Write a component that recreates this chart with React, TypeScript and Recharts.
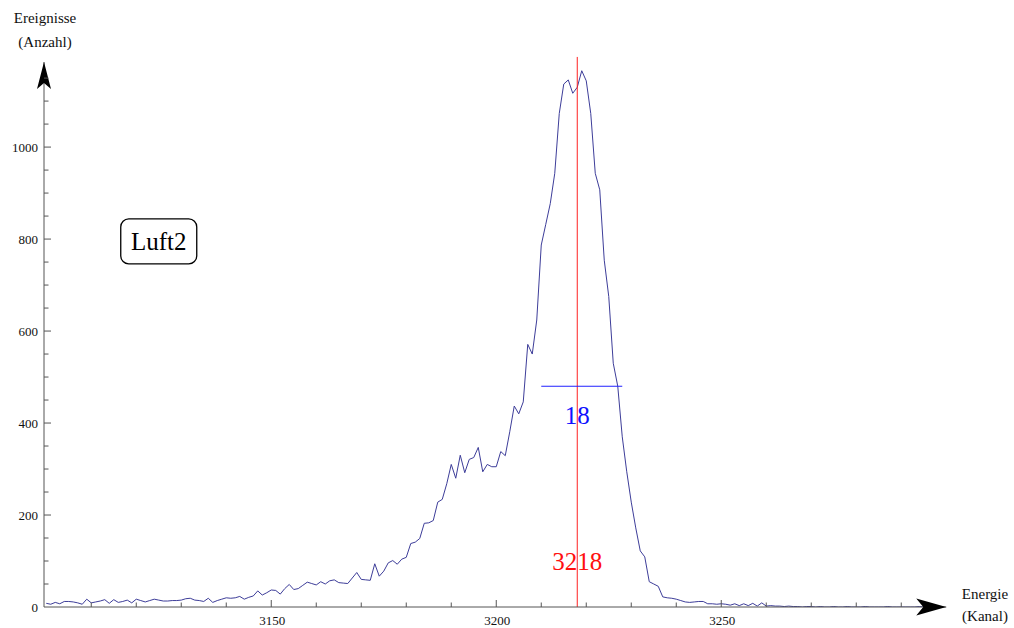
import { LineChart, Line, XAxis, YAxis, ReferenceLine, ReferenceDot } from "recharts"

// counts per channel, starting at firstChannel
const firstChannel = 3100
const counts = [
  8, 6, 10, 7, 12, 12, 11, 9, 6, 17,
  9, 11, 13, 16, 8, 16, 10, 12, 15, 9,
  17, 14, 11, 14, 17, 15, 13, 13, 14, 14,
  15, 18, 19, 15, 14, 12, 19, 10, 14, 17,
  20, 19, 20, 23, 17, 21, 24, 35, 26, 31,
  37, 36, 28, 40, 49, 38, 40, 47, 54, 51,
  48, 55, 50, 57, 59, 53, 52, 51, 63, 75,
  60, 59, 58, 94, 67, 78, 96, 101, 93, 104,
  108, 138, 141, 149, 182, 183, 188, 228, 234, 268,
  310, 280, 330, 292, 321, 325, 347, 294, 310, 305,
  305, 338, 329, 381, 437, 420, 446, 571, 550, 624,
  787, 832, 877, 943, 1073, 1137, 1146, 1117, 1130, 1166,
  1144, 1073, 943, 907, 754, 675, 530, 480, 370, 294,
  228, 172, 122, 109, 55, 50, 45, 22, 20, 19,
  17, 14, 11, 10, 11, 12, 12, 7, 7, 6,
  7, 6, 4, 7, 3, 7, 3, 8, 2, 9,
  2, 3, 2, 2, 1, 2, 1, 1, 0, 1,
  1, 0, 1, 0, 0, 1, 0, 0, 1, 0,
  0, 0, 1, 0, 0, 0, 0, 1, 0, 0,
  0, 0, 0, 0, 1, 0, 0, 0, 0, 0,
]

const xTicks = [3110, 3120, 3130, 3140, 3150, 3160, 3170, 3180, 3190, 3200, 3210, 3220, 3230, 3240, 3250, 3260, 3270, 3280, 3290]
const xLabelTicks = [3150, 3200, 3250]
const yTicks = [0, 50, 100, 150, 200, 250, 300, 350, 400, 450, 500, 550, 600, 650, 700, 750, 800, 850, 900, 950, 1000, 1050, 1100, 1150]
const yLabelTicks = [0, 200, 400, 600, 800, 1000]

const peakChannel = 3218
const fwhm = 18
const fwhmLevel = 480
const fwhmStart = 3210
const peakLabelY = 98
const fwhmLabelY = 416
const tagChannel = 3125
const tagCount = 796

const xDomain: [number, number] = [3099.5, 3300]
const yDomain: [number, number] = [0, 1185]

const serif = '"Liberation Serif", "Times New Roman", serif'
const axisColor = "#555"
const curveColor = "#3d3d99"

const rows = counts.map((c, i) => ({ channel: firstChannel + i, count: c }))

function XTick({ x, y, payload }: any) {
  const major = xLabelTicks.includes(payload.value)
  return (
    <g>
      <line x1={x} y1={y} x2={x} y2={y - (major ? 7 : 4.5)} stroke={axisColor} />
      {major && (
        <text x={x + 1} y={y + 18} textAnchor="middle" fontFamily={serif} fontSize={13} fill="#111">
          {payload.value}
        </text>
      )}
    </g>
  )
}

function YTick({ x, y, payload }: any) {
  const major = yLabelTicks.includes(payload.value)
  return (
    <g>
      {payload.value !== 0 && (
        <line x1={x} y1={y} x2={x + (major ? 7 : 4.5)} y2={y} stroke={axisColor} />
      )}
      {major && (
        <text x={x - 6} y={y + 4.5} textAnchor="end" fontFamily={serif} fontSize={13} fill="#111">
          {payload.value}
        </text>
      )}
    </g>
  )
}

const rightArrow = ({ cx, cy }: any) => (
  <path d={`M${cx},${cy} L${cx - 30},${cy - 8.5} L${cx - 23},${cy} L${cx - 30},${cy + 8.5} Z`} fill="#000" />
)

const upArrow = ({ cx, cy }: any) => (
  <path d={`M${cx},${cy} L${cx - 7},${cy + 27} L${cx},${cy + 21} L${cx + 7},${cy + 27} Z`} fill="#000" />
)

const textShape = (label: string, color: string) => ({ cx, cy }: any) => (
  <text x={cx} y={cy} textAnchor="middle" dominantBaseline="central" fontFamily={serif} fontSize={25} fill={color}>
    {label}
  </text>
)

const tagShape = ({ cx, cy }: any) => (
  <g>
    <rect x={cx - 38} y={cy - 22} width={76} height={45} rx={8} fill="#fff" stroke="#000" strokeWidth={1.3} />
    <text x={cx} y={cy + 1} textAnchor="middle" dominantBaseline="central" fontFamily={serif} fontSize={25} fill="#000">
      Luft2
    </text>
  </g>
)

export default function App() {
  return (
    <div style={{ position: "absolute", left: 0, top: 0, width: 1014, height: 628, background: "#fff" }}>
      <LineChart width={1014} height={628} data={rows} margin={{ top: 62, right: 67.75, bottom: 0, left: 0 }}>
        <XAxis
          type="number"
          dataKey="channel"
          domain={xDomain}
          allowDataOverflow
          ticks={xTicks}
          interval={0}
          tick={<XTick />}
          tickSize={0}
          tickMargin={0}
          tickLine={false}
          axisLine={{ stroke: axisColor }}
          height={21}
        />
        <YAxis
          type="number"
          domain={yDomain}
          allowDataOverflow
          ticks={yTicks}
          interval={0}
          tick={<YTick />}
          tickSize={0}
          tickMargin={0}
          tickLine={false}
          axisLine={{ stroke: axisColor }}
          width={44}
        />
        <Line
          type="linear"
          dataKey="count"
          stroke={curveColor}
          strokeWidth={1}
          dot={false}
          isAnimationActive={false}
        />
        <ReferenceLine
          segment={[{ x: peakChannel, y: 0 }, { x: peakChannel, y: 1196 }]}
          stroke="#ff2020"
          strokeWidth={1}
          ifOverflow="visible"
        />
        <ReferenceLine
          segment={[{ x: fwhmStart, y: fwhmLevel }, { x: fwhmStart + fwhm, y: fwhmLevel }]}
          stroke="#2020ff"
          strokeWidth={1.2}
        />
        <ReferenceDot x={peakChannel} y={fwhmLabelY} r={0} shape={textShape(String(fwhm), "#1010ff")} ifOverflow="visible" />
        <ReferenceDot x={peakChannel} y={peakLabelY} r={0} shape={textShape(String(peakChannel), "#ff1010")} ifOverflow="visible" />
        <ReferenceDot x={tagChannel} y={tagCount} r={0} shape={tagShape} ifOverflow="visible" />
        <ReferenceDot x={xDomain[1]} y={0} r={0} shape={rightArrow} ifOverflow="visible" />
        <ReferenceDot x={xDomain[0]} y={yDomain[1]} r={0} shape={upArrow} ifOverflow="visible" />
      </LineChart>
      <div style={{ position: "absolute", left: 0, top: 6, width: 90, textAlign: "center", fontFamily: serif, fontSize: 15, lineHeight: "24px", color: "#111" }}>
        <div>Ereignisse</div>
        <div>(Anzahl)</div>
      </div>
      <div style={{ position: "absolute", left: 940, top: 583, width: 90, textAlign: "center", fontFamily: serif, fontSize: 15, lineHeight: "22px", color: "#111" }}>
        <div>Energie</div>
        <div>(Kanal)</div>
      </div>
    </div>
  )
}
